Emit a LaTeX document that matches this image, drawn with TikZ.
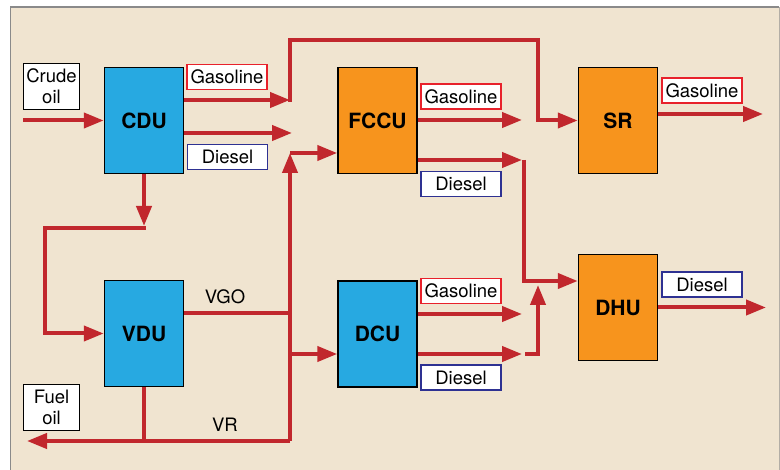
\documentclass[tikz,border=0pt]{standalone}
\usepackage{fontspec}
\setmainfont{TeX Gyre Heros}
\usetikzlibrary{arrows.meta}
\definecolor{bg}{HTML}{F0E4D0}
\definecolor{unitblue}{HTML}{27A9E1}
\definecolor{unitorange}{HTML}{F7941D}
\definecolor{flowred}{HTML}{C1272D}
\definecolor{gasred}{HTML}{E8212B}
\definecolor{dieselblue}{HTML}{2E3192}
\definecolor{framegray}{HTML}{8A8A8A}
\begin{document}
\begin{tikzpicture}[x=1pt,y=-1pt,
  unit/.style={draw=black, line width=1.5pt, minimum width=79pt, minimum height=106pt,
    inner sep=0pt, font=\fontsize{21}{21}\selectfont\bfseries},
  bluebox/.style={unit, fill=unitblue},
  orangebox/.style={unit, fill=unitorange},
  tag/.style={fill=white, line width=1.2pt, minimum width=80pt, minimum height=25pt,
    inner sep=0pt, font=\fontsize{18.5}{18.5}\selectfont},
  gastag/.style={tag, draw=gasred},
  dieseltag/.style={tag, draw=dieselblue},
  feedbox/.style={draw=black, fill=white, line width=1.2pt, minimum width=56pt, minimum height=46pt,
    inner sep=0pt, align=center, font=\fontsize{18.5}{21}\selectfont},
  plain/.style={font=\fontsize{18.5}{18.5}\selectfont},
  flow/.style={draw=flowred, line width=4pt, line join=miter},
  arr/.style={flow, -{Triangle[length=20pt,width=15pt]}}
]
\useasboundingbox (0,0) rectangle (780,470);
\fill[white] (0,0) rectangle (780,470);
\fill[bg] (10,7) rectangle (779,470);
\draw[framegray, line width=1pt] (10,470) -- (10,7);
\draw[framegray!60!bg, line width=1pt] (779,7) -- (779,470);
\draw[framegray, line width=2pt] (10,7) -- (779,7);

% units
\node[bluebox] (cdu) at (144,120.5) {CDU};
\node[bluebox] (vdu) at (144,333.5) {VDU};
\node[orangebox] (fccu) at (377.5,120.5) {FCCU};
\node[bluebox] (dcu) at (377.5,334) {DCU};
\node[orangebox] (sr) at (618,120.5) {SR};
\node[orangebox] (dhu) at (618,307.5) {DHU};

% feeds / products
\node[feedbox] (crude) at (51.5,86.5) {Crude\\oil};
\node[feedbox] (fuel) at (51.5,407.5) {Fuel\\oil};

% labels
\node[gastag] (lg1) at (227,77) {Gasoline};
\node[dieseltag] (ld1) at (227.5,157) {Diesel};
\node[gastag] (lg2) at (461,96.5) {Gasoline};
\node[dieseltag] (ld2) at (461,184) {Diesel};
\node[gastag] (lg3) at (702,90.5) {Gasoline};
\node[gastag] (lg4) at (461,291) {Gasoline};
\node[dieseltag] (ld4) at (461,377.5) {Diesel};
\node[dieseltag] (ld5) at (702,284.5) {Diesel};
\node[plain] (vgo) at (225,297) {VGO};
\node[plain] (vr) at (225,425) {VR};

% coordinates
\coordinate (cin) at (23,120.5);
\coordinate (g1) at (290,100);
\coordinate (g1b) at (290,102);
\coordinate (top1) at (290,40);
\coordinate (top2) at (538,40);
\coordinate (d1) at (292,133);
\coordinate (cdudown) at (144,226);
\coordinate (l1) at (146,228);
\coordinate (l2) at (45,228);
\coordinate (l3) at (45,333.5);
\coordinate (vgoj) at (290,313);
\coordinate (vrj) at (290,441);
\coordinate (vrv) at (144,441);
\coordinate (fuelout) at (27,441);
\coordinate (fin) at (290,153);
\coordinate (din) at (290,354);
\coordinate (fg) at (522,120);
\coordinate (fd) at (522,160);
\coordinate (fdv) at (524,160);
\coordinate (fdh) at (524,281);
\coordinate (dg) at (522,314);
\coordinate (dd) at (522,354);
\coordinate (ddh) at (525,354);
\coordinate (ddc) at (538,354);
\coordinate (ddt) at (538,285);
\coordinate (srout) at (763,114);
\coordinate (dhuout) at (766,307.5);

% flows
\draw[arr] (cin) -- (cdu.west);
\draw[arr] (cdu.east |- g1) -- (g1);
\draw[arr] (g1b) -- (top1) -- (top2) -- (top2 |- sr.west) -- (sr.west);
\draw[arr] (cdu.east |- d1) -- (d1);
\draw[arr] (cdu.south) -- (cdudown);
\draw[arr] (l1) -- (l2) -- (l3) -- (vdu.west);
\draw[flow] (vdu.east |- vgoj) -- (vgoj);
\draw[flow] (vdu.south) -- (vrv);
\draw[arr] (vrj) -- (fuelout);
\draw[arr] (vrj) -- (fin);
\draw[arr] (fin) -- (fccu.west |- fin);
\draw[arr] (din) -- (dcu.west |- din);
\draw[arr] (fccu.east |- fg) -- (fg);
\draw[arr] (fccu.east |- fd) -- (fd);
\draw[arr] (fdv) -- (fdh) -- (dhu.west |- fdh);
\draw[arr] (dcu.east |- dg) -- (dg);
\draw[arr] (dcu.east |- dd) -- (dd);
\draw[arr] (ddh) -- (ddc) -- (ddt);
\draw[arr] (sr.east |- srout) -- (srout);
\draw[arr] (dhu.east) -- (dhuout);
\end{tikzpicture}
\end{document}
